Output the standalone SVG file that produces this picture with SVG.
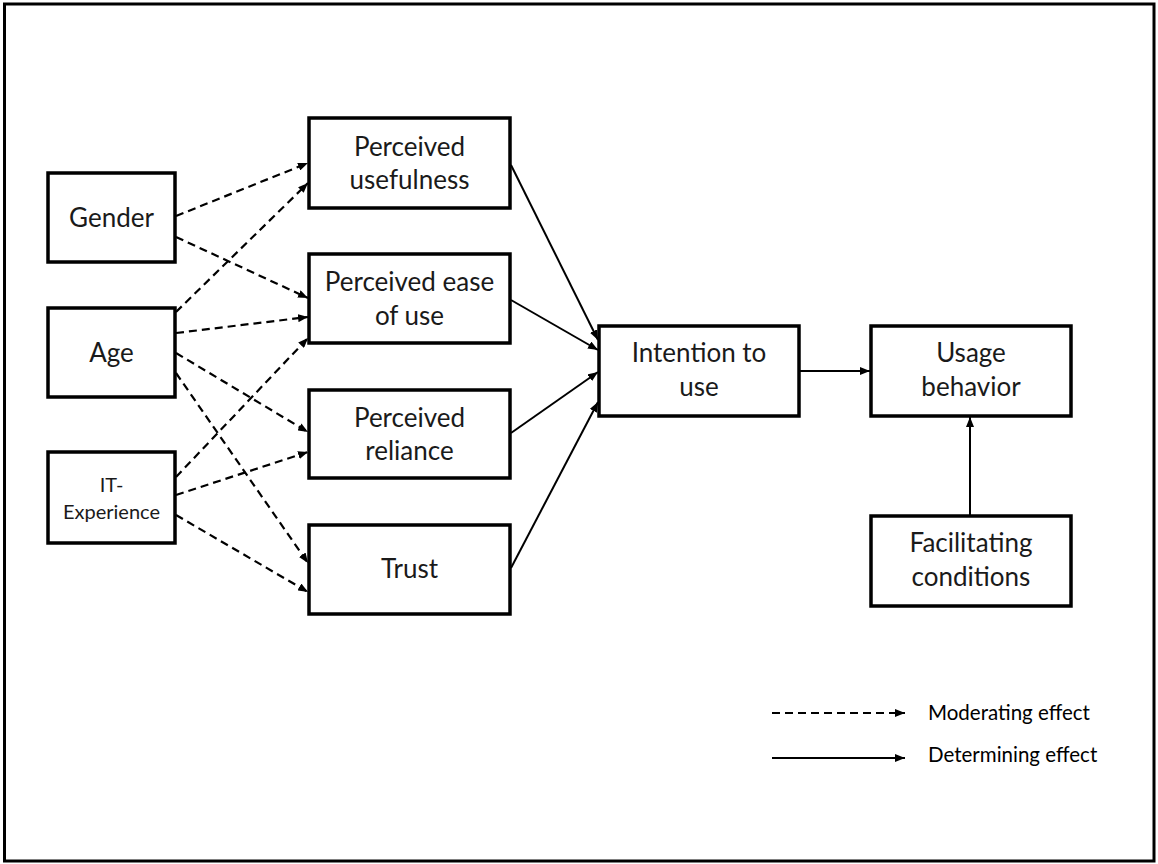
<svg xmlns="http://www.w3.org/2000/svg" width="1158" height="864" viewBox="0 0 1158 864">
  <style>
    .box { fill: #ffffff; stroke: #000000; stroke-width: 3.5; }
    .lbl { font-family: Lato, "Open Sans", "Liberation Sans", sans-serif; font-size: 26px; fill: #1a1a1a; text-anchor: middle; }
    .small { font-size: 20px; }
    .leg { font-family: Lato, "Open Sans", "Liberation Sans", sans-serif; font-size: 20.5px; fill: #000000; }
    .mod { fill: none; stroke: #000000; stroke-width: 2.2; stroke-dasharray: 8 5; marker-end: url(#head); }
    .det { fill: none; stroke: #000000; stroke-width: 2; marker-end: url(#head); }
  </style>
  <defs>
    <marker id="head" viewBox="0 0 10 8" refX="10" refY="4" markerWidth="10" markerHeight="8" markerUnits="userSpaceOnUse" orient="auto">
      <path d="M0,0 L10,4 L0,8 Z" fill="#000000"/>
    </marker>
  </defs>

  <!-- outer frame -->
  <rect x="0" y="0" width="1158" height="864" fill="#ffffff"/>
  <rect x="4.5" y="4" width="1149.5" height="857" fill="none" stroke="#000000" stroke-width="3"/>

  <!-- connectors -->
  <g id="connectors">
    <!-- moderating effects -->
    <line class="mod" x1="176" y1="216" x2="308" y2="163"/>
    <line class="mod" x1="176" y1="237" x2="308" y2="298"/>
    <line class="mod" x1="176" y1="312" x2="308" y2="183"/>
    <line class="mod" x1="176" y1="333" x2="308" y2="317"/>
    <line class="mod" x1="176" y1="353" x2="308" y2="432"/>
    <line class="mod" x1="176" y1="373" x2="308" y2="563"/>
    <line class="mod" x1="176" y1="477" x2="308" y2="338"/>
    <line class="mod" x1="176" y1="495" x2="308" y2="452"/>
    <line class="mod" x1="176" y1="515" x2="308" y2="592"/>
    <!-- determining effects -->
    <line class="det" x1="511" y1="165" x2="598" y2="340"/>
    <line class="det" x1="511" y1="300" x2="598" y2="350"/>
    <line class="det" x1="511" y1="433" x2="598" y2="372"/>
    <line class="det" x1="511" y1="568" x2="598" y2="402"/>
    <line class="det" x1="800" y1="371" x2="870" y2="371"/>
    <line class="det" x1="970" y1="516" x2="970" y2="417"/>
    <!-- legend -->
    <line class="mod" x1="772" y1="713" x2="905" y2="713"/>
    <line class="det" x1="772" y1="758" x2="905" y2="758"/>
  </g>

  <g id="gender">
    <rect class="box" x="48" y="173" width="127" height="89"/>
    <text class="lbl" x="111.5" y="227">Gender</text>
  </g>
  <g id="age">
    <rect class="box" x="48" y="308" width="127" height="89"/>
    <text class="lbl" x="111.5" y="362">Age</text>
  </g>
  <g id="it-experience">
    <rect class="box" x="48" y="452" width="127" height="91"/>
    <text class="lbl small" x="111.5" y="492">IT-</text>
    <text class="lbl small" x="111.5" y="519">Experience</text>
  </g>

  <g id="perceived-usefulness">
    <rect class="box" x="309" y="118" width="201" height="90"/>
    <text class="lbl" x="409.5" y="156">Perceived</text>
    <text class="lbl" x="409.5" y="189">usefulness</text>
  </g>
  <g id="perceived-ease-of-use">
    <rect class="box" x="309" y="254" width="201" height="89"/>
    <text class="lbl" x="409.5" y="291">Perceived ease</text>
    <text class="lbl" x="409.5" y="325">of use</text>
  </g>
  <g id="perceived-reliance">
    <rect class="box" x="309" y="390" width="201" height="88"/>
    <text class="lbl" x="409.5" y="427">Perceived</text>
    <text class="lbl" x="409.5" y="460">reliance</text>
  </g>
  <g id="trust">
    <rect class="box" x="309" y="525" width="201" height="89"/>
    <text class="lbl" x="409.5" y="578">Trust</text>
  </g>

  <g id="intention-to-use">
    <rect class="box" x="599" y="326" width="200" height="90"/>
    <text class="lbl" x="699" y="362">Intention to</text>
    <text class="lbl" x="699" y="396">use</text>
  </g>
  <g id="usage-behavior">
    <rect class="box" x="871" y="326" width="200" height="90"/>
    <text class="lbl" x="971" y="362">Usage</text>
    <text class="lbl" x="971" y="396">behavior</text>
  </g>
  <g id="facilitating-conditions">
    <rect class="box" x="871" y="516" width="200" height="90"/>
    <text class="lbl" x="971" y="552">Facilitating</text>
    <text class="lbl" x="971" y="586">conditions</text>
  </g>

  <g id="legend">
    <text class="leg" x="928" y="720">Moderating effect</text>
    <text class="leg" x="928" y="762">Determining effect</text>
  </g>
</svg>
